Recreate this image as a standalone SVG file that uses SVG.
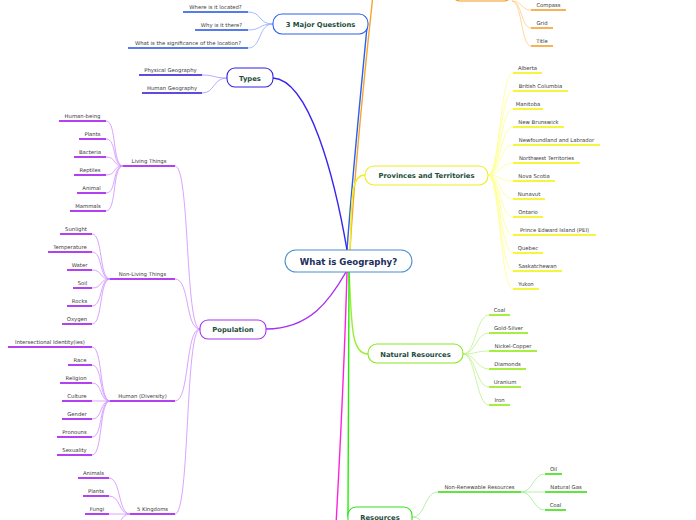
<svg xmlns="http://www.w3.org/2000/svg" width="696" height="520" viewBox="0 0 696 520">
<style>
.leaf{font-family:"DejaVu Sans",Verdana,sans-serif;font-size:5.3px;fill:#3a3a3a;text-anchor:middle}
.ntxt{font-family:"DejaVu Sans",Verdana,sans-serif;font-size:6.8px;font-weight:bold;fill:#1d4d3c;text-anchor:middle}
.ctxt{font-family:"DejaVu Sans",Verdana,sans-serif;font-size:8.6px;font-weight:bold;fill:#1b2d5b;text-anchor:middle}
.ul{fill:none;stroke-width:1.5}
.c{fill:none;stroke-width:0.8}
.m{fill:none;stroke-width:1.4}
.node{fill:#fff;stroke-width:1.1}
.b1{stroke:#1d4fe6}.b1c{stroke:#8fa8ff}
.b2{stroke:#2a10d0}.b2c{stroke:#a596ff}
.b3{stroke:#9a00ee}.b3c{stroke:#cf8cff}
.b4{stroke:#f39a1e}.b4c{stroke:#ffcd85}
.b5{stroke:#f2f200}.b5c{stroke:#ffff8a}
.b6{stroke:#88e800}.b6c{stroke:#bdf28c}
.b7{stroke:#2fdc00}.b7c{stroke:#9eee90}
</style>
<g id="connectors">
<path class="m" stroke="#2a5ff0" d="M347,250 C352,180 362,80 367,27"/>
<path class="m" stroke="#3a24ee" d="M273,78 C310,80 335,180 347,250"/>
<path class="m" stroke="#a430f0" d="M266,329 C310,329 330,300 346,272"/>
<path class="m" stroke="#f7a530" d="M350,250 C356,150 366,60 373,-5"/>
<path class="m" stroke="#f0f020" d="M350,250 C352,200 350,175 365,175"/>
<path class="m" stroke="#99ee33" d="M349,272 C352,320 350,354 368,354"/>
<path class="m" stroke="#22ee00" d="M349,272 C349,400 348,480 348,517"/>
<path class="m" stroke="#ff22dd" d="M347,272 C344,380 340,450 336,525"/>
<g class="c b1c">
<path d="M248,12 C262,12 258,24 273,24"/><path d="M248,30 C262,30 258,24 273,24"/><path d="M248,48 C262,48 258,24 273,24"/>
</g>
<g class="c b2c">
<path d="M202,75 C215,75 213,78 227,78"/><path d="M202,93 C215,93 213,78 227,78"/>
</g>
<g class="c b3c">
<path d="M200,329 C185,329 190,166 175,166"/><path d="M200,329 C185,329 190,279 175,279"/><path d="M200,329 C185,329 190,401 175,401"/><path d="M200,329 C185,329 190,514 175,514"/>
<path d="M123,166 C112,166 117,121 106,121"/><path d="M123,166 C112,166 117,139 106,139"/><path d="M123,166 C112,166 117,157 106,157"/><path d="M123,166 C112,166 117,175 106,175"/><path d="M123,166 C112,166 117,193 106,193"/><path d="M123,166 C112,166 117,211 106,211"/>
<path d="M110,279 C99,279 103,234 92,234"/><path d="M110,279 C99,279 103,252 92,252"/><path d="M110,279 C99,279 103,270 92,270"/><path d="M110,279 C99,279 103,288 92,288"/><path d="M110,279 C99,279 103,306 92,306"/><path d="M110,279 C99,279 103,324 92,324"/>
<path d="M110,401 C99,401 103,347 92,347"/><path d="M110,401 C99,401 103,365 92,365"/><path d="M110,401 C99,401 103,383 92,383"/><path d="M110,401 C99,401 103,401 92,401"/><path d="M110,401 C99,401 103,419 92,419"/><path d="M110,401 C99,401 103,437 92,437"/><path d="M110,401 C99,401 103,455 92,455"/>
<path d="M130,514 C118,514 121,478 109,478"/><path d="M130,514 C118,514 121,496 109,496"/><path d="M130,514 C118,514 121,514 109,514"/><path d="M130,514 C118,514 121,532 109,532"/>
</g>
<g class="c b4c">
<path d="M512,1 C522,1 521,10 531,10"/><path d="M512,1 C522,1 521,28 531,28"/><path d="M512,1 C522,1 521,46 531,46"/>
</g>
<g class="c b5c">
<path d="M488,175 C500,175 500,73 513,73"/><path d="M488,175 C500,175 500,91 513,91"/><path d="M488,175 C500,175 500,109 513,109"/><path d="M488,175 C500,175 500,127 513,127"/><path d="M488,175 C500,175 500,145 513,145"/><path d="M488,175 C500,175 500,163 513,163"/><path d="M488,175 C500,175 500,181 513,181"/><path d="M488,175 C500,175 500,199 513,199"/><path d="M488,175 C500,175 500,217 513,217"/><path d="M488,175 C500,175 500,235 513,235"/><path d="M488,175 C500,175 500,253 513,253"/><path d="M488,175 C500,175 500,271 513,271"/><path d="M488,175 C500,175 500,289 513,289"/>
</g>
<g class="c b6c">
<path d="M463,354 C476,354 476,315 489,315"/><path d="M463,354 C476,354 476,333 489,333"/><path d="M463,354 C476,354 476,351 489,351"/><path d="M463,354 C476,354 476,369 489,369"/><path d="M463,354 C476,354 476,387 489,387"/><path d="M463,354 C476,354 476,405 489,405"/>
</g>
<g class="c b7c">
<path d="M412,517 C426,517 424,492 438,492"/><path d="M412,517 C426,517 424,534 438,534"/>
<path d="M521,492 C533,492 533,474 545,474"/><path d="M521,492 C533,492 533,492 545,492"/><path d="M521,492 C533,492 533,510 545,510"/>
</g>
</g>
<g id="center"><rect class="node" stroke="#4a90d0" x="285" y="250" width="127" height="22" rx="11"/><text class="ctxt" x="348.5" y="264.5">What is Geography?</text></g>
<g id="questions"><rect class="node" stroke="#2a5ff0" x="273" y="14" width="95" height="20" rx="9"/><text class="ntxt" x="320.5" y="26.5">3 Major Questions</text></g>
<g id="q1"><path class="ul b1" d="M183,12H248"/><text class="leaf" x="215.5" y="8.5">Where is it located?</text></g>
<g id="q2"><path class="ul b1" d="M195,30H248"/><text class="leaf" x="221.5" y="26.5">Why is it there?</text></g>
<g id="q3"><path class="ul b1" d="M128,48H248"/><text class="leaf" x="188" y="44.5">What is the significance of the location?</text></g>
<g id="types"><rect class="node" stroke="#3322dd" x="227" y="68" width="46" height="19" rx="8"/><text class="ntxt" x="250" y="80.5">Types</text></g>
<g id="t1"><path class="ul b2" d="M139,75H202"/><text class="leaf" x="170.5" y="71.5">Physical Geography</text></g>
<g id="t2"><path class="ul b2" d="M142,93H202"/><text class="leaf" x="172" y="89.5">Human Geography</text></g>
<g id="population"><rect class="node" stroke="#aa33ee" x="200" y="320" width="66" height="19" rx="8"/><text class="ntxt" x="233" y="331.5">Population</text></g>
<g id="living"><path class="ul b3" d="M123,166H175"/><text class="leaf" x="149" y="162.5">Living Things</text></g>
<g id="l1"><path class="ul b3" d="M59,121H106"/><text class="leaf" x="82.5" y="117.5">Human-being</text></g>
<g id="l2"><path class="ul b3" d="M79,139H106"/><text class="leaf" x="92.5" y="135.5">Plants</text></g>
<g id="l3"><path class="ul b3" d="M74,157H106"/><text class="leaf" x="90" y="153.5">Bacteria</text></g>
<g id="l4"><path class="ul b3" d="M74,175H106"/><text class="leaf" x="90" y="171.5">Reptiles</text></g>
<g id="l5"><path class="ul b3" d="M77,193H106"/><text class="leaf" x="91.5" y="189.5">Animal</text></g>
<g id="l6"><path class="ul b3" d="M70,211H106"/><text class="leaf" x="88" y="207.5">Mammals</text></g>
<g id="nonliving"><path class="ul b3" d="M110,279H175"/><text class="leaf" x="142.5" y="275.5">Non-Living Things</text></g>
<g id="n1"><path class="ul b3" d="M60,234H92"/><text class="leaf" x="76" y="230.5">Sunlight</text></g>
<g id="n2"><path class="ul b3" d="M48,252H92"/><text class="leaf" x="70" y="248.5">Temperature</text></g>
<g id="n3"><path class="ul b3" d="M67,270H92"/><text class="leaf" x="79.5" y="266.5">Water</text></g>
<g id="n4"><path class="ul b3" d="M73,288H92"/><text class="leaf" x="82.5" y="284.5">Soil</text></g>
<g id="n5"><path class="ul b3" d="M67,306H92"/><text class="leaf" x="79.5" y="302.5">Rocks</text></g>
<g id="n6"><path class="ul b3" d="M62,324H92"/><text class="leaf" x="77" y="320.5">Oxygen</text></g>
<g id="diversity"><path class="ul b3" d="M110,401H175"/><text class="leaf" x="142.5" y="397.5">Human (Diversity)</text></g>
<g id="d1"><path class="ul b3" d="M8,347H92"/><text class="leaf" x="50" y="343.5">Intersectional Identity(ies)</text></g>
<g id="d2"><path class="ul b3" d="M68,365H92"/><text class="leaf" x="80" y="361.5">Race</text></g>
<g id="d3"><path class="ul b3" d="M60,383H92"/><text class="leaf" x="76" y="379.5">Religion</text></g>
<g id="d4"><path class="ul b3" d="M62,401H92"/><text class="leaf" x="77" y="397.5">Culture</text></g>
<g id="d5"><path class="ul b3" d="M62,419H92"/><text class="leaf" x="77" y="415.5">Gender</text></g>
<g id="d6"><path class="ul b3" d="M57,437H92"/><text class="leaf" x="74.5" y="433.5">Pronouns</text></g>
<g id="d7"><path class="ul b3" d="M57,455H92"/><text class="leaf" x="74.5" y="451.5">Sexuality</text></g>
<g id="kingdoms"><path class="ul b3" d="M130,514H175"/><text class="leaf" x="152.5" y="510.5">5 Kingdoms</text></g>
<g id="k1"><path class="ul b3" d="M78,478H109"/><text class="leaf" x="93.5" y="474.5">Animals</text></g>
<g id="k2"><path class="ul b3" d="M83,496H109"/><text class="leaf" x="96" y="492.5">Plants</text></g>
<g id="k3"><path class="ul b3" d="M85,514H109"/><text class="leaf" x="97" y="510.5">Fungi</text></g>
<g id="map"><rect class="node" stroke="#f39a1e" stroke-width="1.6" x="452" y="-20" width="60" height="21" rx="8"/></g>
<g id="m1"><path class="ul b4" d="M531,10H566"/><text class="leaf" x="548.5" y="6.5">Compass</text></g>
<g id="m2"><path class="ul b4" d="M531,28H553"/><text class="leaf" x="542" y="24.5">Grid</text></g>
<g id="m3"><path class="ul b4" d="M531,46H553"/><text class="leaf" x="542" y="42.5">Title</text></g>
<g id="provinces"><rect class="node" stroke="#eeee22" x="365" y="166" width="123" height="19" rx="9"/><text class="ntxt" x="426.5" y="177.5">Provinces and Territories</text></g>
<g id="p1"><path class="ul b5" d="M513,73H542"/><text class="leaf" x="527.5" y="69.5">Alberta</text></g>
<g id="p2"><path class="ul b5" d="M513,91H568"/><text class="leaf" x="540.5" y="87.5">British Columbia</text></g>
<g id="p3"><path class="ul b5" d="M513,109H543"/><text class="leaf" x="528" y="105.5">Manitoba</text></g>
<g id="p4"><path class="ul b5" d="M513,127H564"/><text class="leaf" x="538.5" y="123.5">New Brunswick</text></g>
<g id="p5"><path class="ul b5" d="M513,145H600"/><text class="leaf" x="556.5" y="141.5">Newfoundland and Labrador</text></g>
<g id="p6"><path class="ul b5" d="M513,163H580"/><text class="leaf" x="546.5" y="159.5">Northwest Territories</text></g>
<g id="p7"><path class="ul b5" d="M513,181H555"/><text class="leaf" x="534" y="177.5">Nova Scotia</text></g>
<g id="p8"><path class="ul b5" d="M513,199H545"/><text class="leaf" x="529" y="195.5">Nunavut</text></g>
<g id="p9"><path class="ul b5" d="M513,217H543"/><text class="leaf" x="528" y="213.5">Ontario</text></g>
<g id="p10"><path class="ul b5" d="M513,235H596"/><text class="leaf" x="554.5" y="231.5">Prince Edward Island (PEI)</text></g>
<g id="p11"><path class="ul b5" d="M513,253H543"/><text class="leaf" x="528" y="249.5">Quebec</text></g>
<g id="p12"><path class="ul b5" d="M513,271H562"/><text class="leaf" x="537.5" y="267.5">Saskatchewan</text></g>
<g id="p13"><path class="ul b5" d="M513,289H539"/><text class="leaf" x="526" y="285.5">Yukon</text></g>
<g id="natural"><rect class="node" stroke="#88e822" x="368" y="344" width="95" height="19" rx="9"/><text class="ntxt" x="415.5" y="356.5">Natural Resources</text></g>
<g id="r1"><path class="ul b6" d="M489,315H510"/><text class="leaf" x="499.5" y="311.5">Coal</text></g>
<g id="r2"><path class="ul b6" d="M489,333H528"/><text class="leaf" x="508.5" y="329.5">Gold-Silver</text></g>
<g id="r3"><path class="ul b6" d="M489,351H537"/><text class="leaf" x="513" y="347.5">Nickel-Copper</text></g>
<g id="r4"><path class="ul b6" d="M489,369H526"/><text class="leaf" x="507.5" y="365.5">Diamonds</text></g>
<g id="r5"><path class="ul b6" d="M489,387H521"/><text class="leaf" x="505" y="383.5">Uranium</text></g>
<g id="r6"><path class="ul b6" d="M489,405H510"/><text class="leaf" x="499.5" y="401.5">Iron</text></g>
<g id="resources"><rect class="node" stroke="#33e020" x="348" y="507" width="64" height="24" rx="8"/><text class="ntxt" x="380" y="519.5">Resources</text></g>
<g id="nonrenewable"><path class="ul b7" d="M438,492H521"/><text class="leaf" x="479.5" y="488.5">Non-Renewable Resources</text></g>
<g id="e1"><path class="ul b7" d="M545,474H562"/><text class="leaf" x="553.5" y="470.5">Oil</text></g>
<g id="e2"><path class="ul b7" d="M545,492H587"/><text class="leaf" x="566" y="488.5">Natural Gas</text></g>
<g id="e3"><path class="ul b7" d="M545,510H566"/><text class="leaf" x="555.5" y="506.5">Coal</text></g>
</svg>
